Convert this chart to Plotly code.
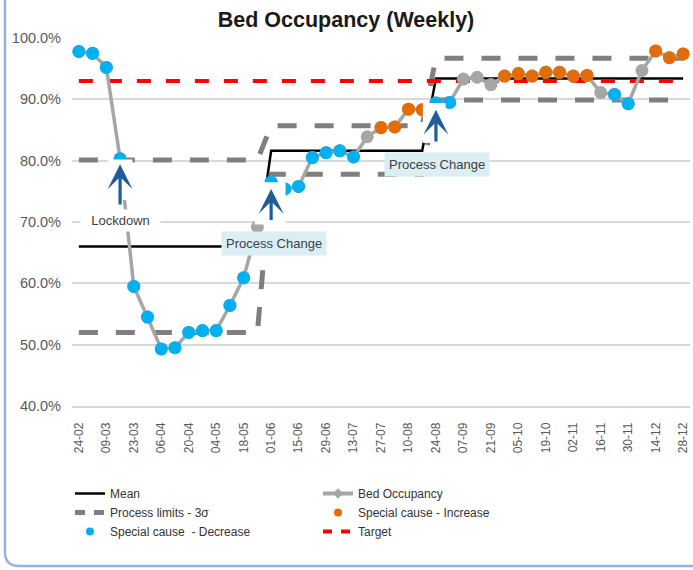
import plotly.graph_objects as go

weeks = ["24-02", "02-03", "09-03", "16-03", "23-03", "30-03", "06-04", "13-04", "20-04", "27-04",
         "04-05", "11-05", "18-05", "25-05", "01-06", "08-06", "15-06", "22-06", "29-06", "06-07",
         "13-07", "20-07", "27-07", "03-08", "10-08", "17-08", "24-08", "31-08", "07-09", "14-09",
         "21-09", "28-09", "05-10", "12-10", "19-10", "26-10", "02-11", "09-11", "16-11", "23-11",
         "30-11", "07-12", "14-12", "21-12", "28-12"]

occupancy = [97.8, 97.5, 95.2, 80.3, 59.5, 54.5, 49.3, 49.5, 52.0, 52.3,
             52.3, 56.4, 60.9, 69.2, 76.5, 75.4, 75.8, 80.5, 81.3, 81.6,
             80.6, 83.9, 85.4, 85.5, 88.4, 88.3, 89.4, 89.5, 93.3, 93.6,
             92.4, 93.8, 94.2, 93.8, 94.4, 94.4, 93.8, 93.9, 91.1, 90.8,
             89.3, 94.7, 97.9, 96.8, 97.4]

# special cause flags: D = decrease (blue), I = increase (orange), "" = none
flags = ["D"] * 13 + [""] + ["D"] * 7 + [""] + ["I"] * 4 + ["D"] * 2 + [""] * 3 + \
        ["I"] * 7 + [""] + ["D"] * 2 + [""] + ["I"] * 3

phase_lengths = [14, 12, 19]
mean_levels = [66.0, 81.6, 93.4]
ucl_levels = [80.1, 85.7, 96.7]
lcl_levels = [52.0, 77.8, 89.9]
target_value = 93.0

tick_labels = weeks[::2]


def expand(levels):
    out = []
    for lv, n in zip(levels, phase_lengths):
        out += [lv] * n
    return out


mean = expand(mean_levels)
ucl = expand(ucl_levels)
lcl = expand(lcl_levels)
target = [target_value] * len(weeks)
dec = [v if f == "D" else None for v, f in zip(occupancy, flags)]
inc = [v if f == "I" else None for v, f in zip(occupancy, flags)]

GREY_LINE = "#A6A6A6"
LIMIT = "#7F7F7F"
BLUE = "#00B0F0"
ORANGE = "#E36C09"
ARROW = "#1F5C99"
FONT = "Liberation Sans, Arial, sans-serif"

fig = go.Figure()

# plotted series
fig.add_trace(go.Scatter(x=weeks, y=mean, mode="lines", name="Mean", showlegend=False,
                         line=dict(color="black", width=2.5)))
for lim in (ucl, lcl):
    fig.add_trace(go.Scatter(x=weeks, y=lim, mode="lines", name="Process limits - 3σ", showlegend=False,
                             line=dict(color=LIMIT, width=5, dash="19px,18px")))
fig.add_trace(go.Scatter(x=weeks, y=target, mode="lines", name="Target", showlegend=False,
                         line=dict(color="#FF0000", width=4, dash="14px,15px")))
fig.add_trace(go.Scatter(x=weeks, y=occupancy, mode="lines+markers", name="Bed Occupancy", showlegend=False,
                         line=dict(color=GREY_LINE, width=3.5),
                         marker=dict(color=GREY_LINE, size=13), cliponaxis=False))
fig.add_trace(go.Scatter(x=weeks, y=dec, mode="markers", name="Special cause  - Decrease", showlegend=False,
                         marker=dict(color=BLUE, size=13), cliponaxis=False))
fig.add_trace(go.Scatter(x=weeks, y=inc, mode="markers", name="Special cause - Increase", showlegend=False,
                         marker=dict(color=ORANGE, size=13), cliponaxis=False))

# legend entries (legend-only look-alikes of the series above)
legend_entries = [
    ("legend", 1, "Mean", dict(mode="lines", line=dict(color="black", width=2.5))),
    ("legend", 2, "Process limits - 3σ", dict(mode="lines", line=dict(color=LIMIT, width=5, dash="10px,9px"))),
    ("legend", 3, "Special cause  - Decrease", dict(mode="markers", marker=dict(color=BLUE, size=8))),
    ("legend2", 1, "Bed Occupancy", dict(mode="lines+markers", line=dict(color=GREY_LINE, width=4),
                                        marker=dict(color=GREY_LINE, size=8, symbol="diamond"))),
    ("legend2", 2, "Special cause - Increase", dict(mode="markers", marker=dict(color=ORANGE, size=8))),
    ("legend2", 3, "Target", dict(mode="lines", line=dict(color="#FF0000", width=4, dash="9px,9px"))),
]
for lg, rank, name, style in legend_entries:
    fig.add_trace(go.Scatter(x=[None], y=[None], name=name, legend=lg, legendrank=rank, **style))

# layout geometry (screen pixels; page body margin removed below)
W, H = 693, 570
PL, PR, PT, PB = 72, 690, 38, 406          # plot area on screen
L, T = PL, PT
PW, PH = PR - PL, PB - PT
R, B = W - L - PW, H - T - PH


def px2paper(px, py):
    return (px - PL) / PW, (PB - py) / PH


x0, yb = px2paper(5, 566)
xr, yt = px2paper(740, -30)
rx, ry = 14 / PW, 14 / PH
frame = (f"M {x0},{yt} L {x0},{yb + ry} Q {x0},{yb} {x0 + rx},{yb} L {xr},{yb}")
shapes = [dict(type="path", xref="paper", yref="paper", path=frame,
               line=dict(color="#95B3D7", width=2.5), layer="below")]

# white backgrounds behind the arrows
for (xa, xb, ya, yb2) in [(2.1, 3.9, 73.6, 80.2), (12.8, 15.05, 69.6, 76.5), (25.05, 26.7, 82.9, 89.4)]:
    shapes.append(dict(type="rect", xref="x", yref="y", x0=xa, x1=xb, y0=ya, y1=yb2,
                       fillcolor="white", line=dict(width=0), layer="above"))

annotations = []
for (xi, tip, tail) in [(3, 79.4, 72.6), (14, 75.4, 70.1), (26, 88.3, 82.9)]:
    annotations.append(dict(x=xi, y=tip, ax=xi, ay=tail, xref="x", yref="y", axref="x", ayref="y",
                            text="", showarrow=True, arrowhead=3, arrowsize=1.3, arrowwidth=3.2,
                            arrowcolor=ARROW))

annotations.append(dict(x=3, y=70.3, xref="x", yref="y", text="  Lockdown  ", showarrow=False,
                        bgcolor="white", borderpad=3, font=dict(family=FONT, size=13, color="#404040")))
for (xi, yv) in [(14.2, 66.5), (26.05, 79.4)]:
    annotations.append(dict(x=xi, y=yv, xref="x", yref="y", text="Process Change", showarrow=False,
                            bgcolor="#DAEEF3", borderpad=4,
                            font=dict(family=FONT, size=13, color="#404040")))

lx1, ly = px2paper(70, 479)
lx2, _ = px2paper(318, 479)

fig.update_layout(
    width=W, height=H,
    margin=dict(l=L, r=R, t=T, b=B, autoexpand=False),
    paper_bgcolor="white", plot_bgcolor="white",
    title=dict(text="<b>Bed Occupancy (Weekly)</b>", x=346 / W, xref="container", xanchor="center",
               y=1 - 19 / H, yref="container", yanchor="middle",
               font=dict(family=FONT, size=21.5, color="#1A1A1A")),
    xaxis=dict(type="category", categoryorder="array", categoryarray=weeks,
               range=[-0.5, len(weeks) - 0.5], tickmode="array", tickvals=tick_labels,
               tickangle=-90, showgrid=False, showline=True, linecolor="#D9D9D9", linewidth=1.5,
               ticks="", ticklabelstandoff=10, automargin=False,
               tickfont=dict(family=FONT, size=12, color="#595959")),
    yaxis=dict(range=[40, 100], dtick=10, tickformat=".1f", ticksuffix="%",
               showgrid=True, gridcolor="#D9D9D9", gridwidth=1.5, zeroline=False,
               ticks="", ticklabelstandoff=10, automargin=False,
               tickfont=dict(family=FONT, size=14.5, color="#595959")),
    legend=dict(x=lx1, y=ly, xanchor="left", yanchor="top", orientation="v",
                font=dict(family=FONT, size=12, color="#333333"), bgcolor="rgba(0,0,0,0)",
                tracegroupgap=0, traceorder="normal"),
    legend2=dict(x=lx2, y=ly, xanchor="left", yanchor="top", orientation="v",
                 font=dict(family=FONT, size=12, color="#333333"), bgcolor="rgba(0,0,0,0)",
                 tracegroupgap=0, traceorder="normal"),
    shapes=shapes,
    annotations=annotations,
    showlegend=True,
)

fig.write_html("out.html", config={"displayModeBar": False},
               post_script="document.body.style.margin='0';document.body.style.overflow='hidden';")
